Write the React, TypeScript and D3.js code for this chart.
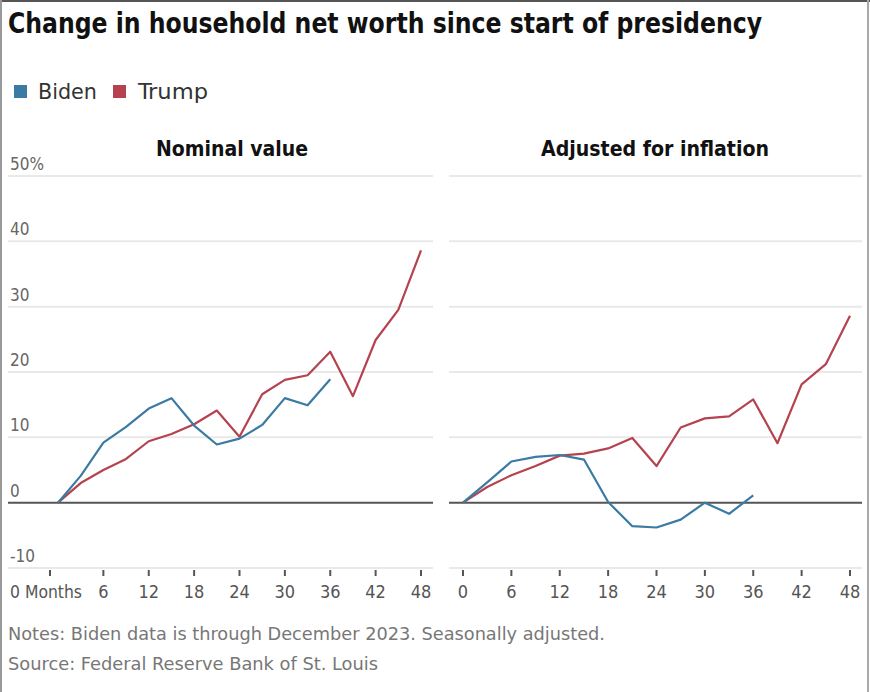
import React from "react";
import * as d3 from "d3";

const title = "Change in household net worth since start of presidency";
const seriesNames = ["Biden", "Trump"];
const panelTitles = ["Nominal value", "Adjusted for inflation"];
const yTicks = [-10, 0, 10, 20, 30, 40, 50];
const xTicks = [0, 6, 12, 18, 24, 30, 36, 42, 48];

const bidenMonths = [0, 3, 6, 9, 12, 15, 18, 21, 24, 27, 30, 33, 36];
const trumpMonths = [0, 3, 6, 9, 12, 15, 18, 21, 24, 27, 30, 33, 36, 39, 42, 45, 48];

const bidenNominal = [0, 4.1, 9.2, 11.6, 14.4, 16.0, 11.8, 8.9, 9.8, 11.9, 16.0, 14.9, 18.9];
const trumpNominal = [0, 3.0, 5.0, 6.7, 9.4, 10.5, 12.0, 14.1, 10.1, 16.6, 18.8, 19.5, 23.1, 16.3, 24.9, 29.5, 38.6];
const bidenReal = [0, 3.1, 6.3, 7.0, 7.3, 6.6, 0.1, -3.6, -3.8, -2.6, 0.0, -1.7, 1.1];
const trumpReal = [0, 2.4, 4.2, 5.6, 7.2, 7.5, 8.3, 9.9, 5.6, 11.5, 12.9, 13.2, 15.8, 9.1, 18.1, 21.2, 28.6];

const notes = "Notes: Biden data is through December 2023. Seasonally adjusted.";
const source = "Source: Federal Reserve Bank of St. Louis";

const BIDEN = "#3a7aa3";
const TRUMP = "#b5434f";
const FONT = "'Liberation Sans Narrow', 'DejaVu Sans Condensed', Roboto, sans-serif";

const y = d3.scaleLinear().domain([-10, 50]).range([568, 176]);

type Panel = {
  title: string;
  x: d3.ScaleLinear<number, number>;
  gridX: [number, number];
  biden: number[];
  trump: number[];
  yLabels: boolean;
  firstTickOffset: number;
  titleX: number;
  titleLen: number;
};

const panels: Panel[] = [
  {
    title: panelTitles[0],
    x: d3.scaleLinear().domain([0, 48]).range([58, 421]),
    gridX: [8, 433],
    biden: bidenNominal,
    trump: trumpNominal,
    yLabels: true,
    firstTickOffset: -8,
    titleX: 232,
    titleLen: 152,
  },
  {
    title: panelTitles[1],
    x: d3.scaleLinear().domain([0, 48]).range([463, 850]),
    gridX: [449, 862],
    biden: bidenReal,
    trump: trumpReal,
    yLabels: false,
    firstTickOffset: 0,
    titleX: 655,
    titleLen: 228,
  },
];

function PanelView({ p }: { p: Panel }) {
  const lineB = d3
    .line<number>()
    .x((_, i) => p.x(bidenMonths[i]))
    .y((d) => y(d));
  const lineT = d3
    .line<number>()
    .x((_, i) => p.x(trumpMonths[i]))
    .y((d) => y(d));
  return (
    <g>
      <text
        x={p.titleX}
        y={156}
        textAnchor="middle"
        fontFamily={FONT}
        fontWeight={700}
        fontSize={21}
        fill="#111"
        textLength={p.titleLen}
        lengthAdjust="spacingAndGlyphs"
      >
        {p.title}
      </text>
      {yTicks
        .filter((t) => t !== 0)
        .map((t) => (
          <line key={t} x1={p.gridX[0]} x2={p.gridX[1]} y1={y(t)} y2={y(t)} stroke="#e9e9e9" strokeWidth={2} />
        ))}
      {p.yLabels &&
        yTicks.map((t) => (
          <text key={t} x={10} y={y(t) - 6} fontFamily={FONT} fontSize={17} fill="#666">
            {t === 50 ? "50%" : String(t)}
          </text>
        ))}
      {xTicks.map((t, i) => {
        const tx = p.x(t) + (i === 0 ? p.firstTickOffset : 0);
        const label = i === 0 && p.yLabels ? "0 Months" : String(t);
        return (
          <g key={t}>
            <line x1={tx} x2={tx} y1={570} y2={576} stroke="#555" strokeWidth={2} />
            {label === "0 Months" ? (
              <text
                x={tx - 4}
                y={598}
                textAnchor="middle"
                fontFamily={FONT}
                fontSize={18}
                fill="#555"
                textLength={72}
                lengthAdjust="spacingAndGlyphs"
              >
                {label}
              </text>
            ) : (
              <text x={tx} y={598} textAnchor="middle" fontFamily={FONT} fontSize={18} fill="#555">
                {label}
              </text>
            )}
          </g>
        );
      })}
      <line x1={p.gridX[0]} x2={p.gridX[1]} y1={y(0)} y2={y(0)} stroke="#555" strokeWidth={2} />
      <path d={lineT(p.trump) ?? ""} fill="none" stroke={TRUMP} strokeWidth={2.2} strokeLinejoin="round" />
      <path d={lineB(p.biden) ?? ""} fill="none" stroke={BIDEN} strokeWidth={2.2} strokeLinejoin="round" />
    </g>
  );
}

export default function App() {
  return (
    <svg
      width={870}
      height={692}
      viewBox="0 0 870 692"
      style={{ position: "absolute", left: 0, top: 0, background: "#fff" }}
    >
      <rect x={0} y={0} width={870} height={692} fill="#fff" />
      <line x1={0} x2={870} y1={1} y2={1} stroke="#555" strokeWidth={2} />
      <line x1={1} x2={1} y1={0} y2={692} stroke="#999" strokeWidth={2} />
      <line x1={868} x2={868} y1={0} y2={692} stroke="#aaa" strokeWidth={2} />
      <text
        x={8}
        y={33}
        fontFamily={FONT}
        fontWeight={700}
        fontSize={29}
        fill="#111"
        textLength={754}
        lengthAdjust="spacingAndGlyphs"
      >
        {title}
      </text>
      <rect x={14} y={85} width={13} height={13} fill={BIDEN} />
      <text x={38} y={99} fontFamily={FONT} fontSize={21} fill="#333" textLength={59} lengthAdjust="spacingAndGlyphs">
        {seriesNames[0]}
      </text>
      <rect x={113} y={85} width={13} height={13} fill={TRUMP} />
      <text x={138} y={99} fontFamily={FONT} fontSize={21} fill="#333" textLength={70} lengthAdjust="spacingAndGlyphs">
        {seriesNames[1]}
      </text>
      {panels.map((p) => (
        <PanelView key={p.title} p={p} />
      ))}
      <text x={8} y={640} fontFamily={FONT} fontSize={17} fill="#777" textLength={597} lengthAdjust="spacingAndGlyphs">
        {notes}
      </text>
      <text x={8} y={670} fontFamily={FONT} fontSize={17} fill="#777" textLength={370} lengthAdjust="spacingAndGlyphs">
        {source}
      </text>
    </svg>
  );
}
